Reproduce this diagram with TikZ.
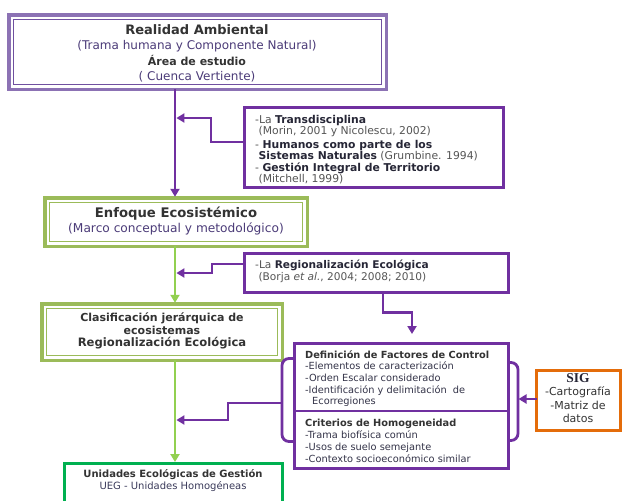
\documentclass[tikz,border=0pt]{standalone}
\usepackage{fontspec}
\setmainfont{DejaVu Sans}
\newfontfamily\sigserif{Liberation Serif}
\usetikzlibrary{arrows.meta,calc}
\definecolor{pbox}{HTML}{8C72B4}
\definecolor{pinner}{HTML}{7050A0}
\definecolor{pline}{HTML}{7030A0}
\definecolor{gbox}{HTML}{9BBB59}
\definecolor{gline}{HTML}{92D050}
\definecolor{uegc}{HTML}{00B050}
\definecolor{sigc}{HTML}{E46C0A}
\definecolor{txtdark}{HTML}{333333}
\definecolor{txtpar}{HTML}{4B3B78}
\definecolor{txtgray}{HTML}{555555}
\definecolor{txtbold}{HTML}{262636}
\definecolor{deftxt}{HTML}{333348}
\definecolor{uegsub}{HTML}{3A3A5A}
\newcommand\fsz[2]{\fontsize{#1}{#2}\selectfont}
\tikzset{
  dblbox/.style={draw=#1, line width=3.5pt, fill=white, inner sep=0pt, outer sep=0pt},
  plainbox/.style={draw=#1, line width=3pt, fill=white, inner sep=0pt, outer sep=0pt},
  innerline/.style={draw=#1, line width=1.1pt},
  parrow/.style={draw=pline, line width=2.8pt, -{Triangle[length=8pt,width=9pt]}},
  garrow/.style={draw=gline, line width=2.8pt, -{Triangle[length=8pt,width=9pt]}},
  bracket/.style={draw=pline, line width=2.8pt, rounded corners=7pt},
  ctext/.style={align=center, inner sep=0pt, text=txtdark},
  ltext/.style={align=left, inner sep=0pt, anchor=north west, text=txtdark},
}
\begin{document}
\begin{tikzpicture}[x=1pt,y=-1pt]
\useasboundingbox (0,0) rectangle (622,501);
\fill[white] (0,0) rectangle (622,501);
\coordinate (spine) at (175,0);
% boxes
\node[dblbox=pbox, minimum width=377.5pt, minimum height=74.5pt] (real) at (197.5,52) {};
\draw[innerline=pinner] ($(real.north west)+(4.5,4.5)$) rectangle ($(real.south east)+(-4.5,-4.5)$);
\node[plainbox=pline, minimum width=259pt, minimum height=80pt] (trans) at (374,147.5) {};
\node[dblbox=gbox, minimum width=262.5pt, minimum height=48.5pt] (enf) at (176,222) {};
\draw[innerline=gbox] ($(enf.north west)+(4.5,4.5)$) rectangle ($(enf.south east)+(-4.5,-4.5)$);
\node[plainbox=pline, minimum width=264pt, minimum height=39pt] (regio) at (376.5,273) {};
\node[dblbox=gbox, minimum width=240.5pt, minimum height=56.5pt] (clas) at (162,332) {};
\draw[innerline=gbox] ($(clas.north west)+(4.5,4.5)$) rectangle ($(clas.south east)+(-4.5,-4.5)$);
\node[plainbox=pline, minimum width=214pt, minimum height=125pt] (def) at (401.5,406) {};
\draw[pline, line width=2.8pt] (def.west |- 0,411) -- (def.east |- 0,411);
\node[plainbox=sigc, line width=3.5pt, minimum width=84pt, minimum height=60pt] (sig) at (578.5,400.5) {};
\node[plainbox=uegc, minimum width=218pt, minimum height=44pt] (ueg) at (173.5,485.5) {};
% brackets
\draw[bracket] ($(def.north west)+(0,15)$) -- ++(-12.5,0) -- ++(0,83) -- ++(12.5,0);
\draw[bracket] ($(def.north east)+(0,19)$) -- ++(9.5,0) -- ++(0,78) -- ++(-9.5,0);
\coordinate (lbr) at ($(def.north west)+(-12.5,59.5)$);
\coordinate (rbr) at ($(def.north east)+(9.5,55.5)$);
% connectors
\draw[parrow, shorten >=1pt] (real.south -| spine) -- (enf.north -| spine);
\draw[parrow, shorten >=1.4pt] ($(trans.west)+(0,-5.5)$) -- ++(-33.5,0) -- ++(0,-24) -- (spine |- 0,118);
\draw[garrow, shorten >=1pt] (enf.south -| spine) -- (clas.north -| spine);
\draw[parrow, shorten >=1.4pt] ($(regio.west)+(0,-9)$) -- ++(-32.5,0) -- ++(0,9) -- (spine |- 0,273);
\draw[parrow] ($(regio.south west)+(138.5,0)$) -- ++(0,20) -- ++(29,0) -- ($(def.north west)+(117.5,-9.5)$);
\draw[garrow, shorten >=1.5pt] (clas.south -| spine) -- (ueg.north -| spine);
\draw[parrow, shorten >=1.4pt] (lbr) -- ++(-54,0) -- ++(0,17) -- (spine |- 0,420);
\draw[parrow, shorten >=0.5pt] (sig.west |- rbr) -- (rbr);
% texts
\node[ctext, font=\fsz{12}{15.5}] (realtxt) at (197,53.5) {{\bfseries\fsz{13}{15.5}Realidad Ambiental}\\
  \textcolor{txtpar}{(Trama humana y Componente Natural)}\\
  {\bfseries\fsz{11}{15.5}Área de estudio}\\
  \textcolor{txtpar}{( Cuenca Vertiente)}};
\node[ltext, font=\fsz{10.8}{11.3}, text=txtbold] (transtxt) at (255,115) {\textcolor{txtgray}{-La} \textbf{Transdisciplina}\\
  \textcolor{txtgray}{\ (Morin, 2001 y Nicolescu, 2002)}\\[2.5pt]
  \textcolor{txtgray}{-} \textbf{Humanos como parte de los}\\
  \ \textbf{Sistemas Naturales} \textcolor{txtgray}{(Grumbine. 1994)}\\
  \textcolor{txtgray}{-} \textbf{Gestión Integral de Territorio}\\
  \textcolor{txtgray}{\ (Mitchell, 1999)}};
\node[ctext, font=\fsz{12.2}{15}] (enftxt) at (176,221) {{\bfseries\fsz{13.2}{15}Enfoque Ecosistémico}\\
  \textcolor{txtpar}{(Marco conceptual y metodológico)}};
\node[ltext, font=\fsz{10.6}{12}, text=txtbold] (regiotxt) at (255,260) {\textcolor{txtgray}{-La} \textbf{Regionalización Ecológica}\\
  \textcolor{txtgray}{\ (Borja \textit{et al.}, 2004; 2008; 2010)}};
\node[ctext, font=\bfseries\fsz{11}{12.5}] (clastxt) at (162,331) {Clasificación jerárquica de\\ecosistemas\\{\fsz{11.6}{12.5}Regionalización Ecológica}};
\node[ltext, font=\fsz{9.8}{11.7}, text=deftxt] (deftxta) at (305,350) {{\bfseries\color{txtdark}Definición de Factores de Control}\\
  -Elementos de caracterización\\
  -Orden Escalar considerado\\
  -Identificación y delimitación\ \ de\\
  \hspace*{7pt}Ecorregiones};
\node[ltext, font=\fsz{9.8}{11.9}, text=deftxt] (deftxtb) at (305,419) {{\bfseries\color{txtdark}Criterios de Homogeneidad}\\
  -Trama biofísica común\\
  -Usos de suelo semejante\\
  -Contexto socioeconómico similar};
\node[ctext, font=\fsz{11}{13.3}] (sigtxt) at (578,398) {{\sigserif\bfseries\fsz{13.5}{13.3}\color{txtbold}SIG}\\-Cartografía\\-Matriz de\\datos};
\node[ctext, font=\fsz{10}{12}] (uegtxt) at (173,481) {{\bfseries Unidades Ecológicas de Gestión}\\\textcolor{uegsub}{UEG - Unidades Homogéneas}};
\end{tikzpicture}
\end{document}
